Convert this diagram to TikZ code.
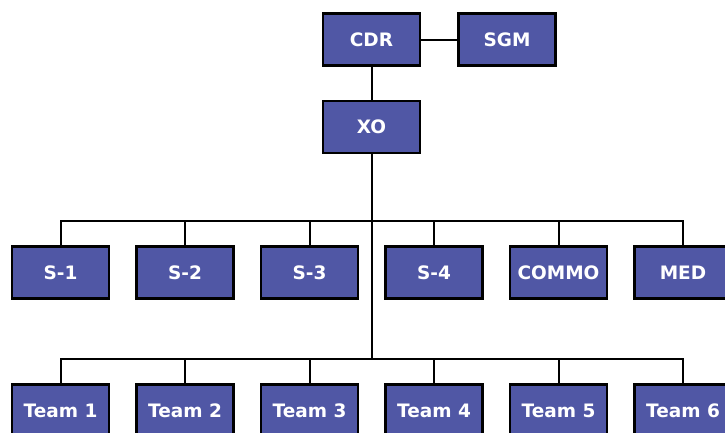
\documentclass[tikz,border=0pt]{standalone}
\usepackage{fontspec}
\setmainfont{DejaVu Sans}
\definecolor{boxblue}{RGB}{80,87,165}
\tikzset{
  orgbox/.style={draw=black, line width=2.2bp, fill=boxblue, minimum width=97bp, minimum height=52bp, inner sep=0pt, text=white, font=\fontsize{18.5bp}{20bp}\selectfont\bfseries},
  link/.style={draw=black, line width=2bp}
}
\begin{document}
\begin{tikzpicture}[x=1bp,y=-1bp]
\useasboundingbox (0,0) rectangle (725,432);
\node[orgbox] (cdr) at (371.5,39.5) {CDR};
\node[orgbox] (sgm) at (507,39.5) {SGM};
\node[orgbox] (xo) at (371.5,127) {XO};
\node[orgbox] (s1) at (60.5,272.5) {S-1};
\node[orgbox] (s2) at (185,272.5) {S-2};
\node[orgbox] (s3) at (309.5,272.5) {S-3};
\node[orgbox] (s4) at (434,272.5) {S-4};
\node[orgbox] (s5) at (558.5,272.5) {COMMO};
\node[orgbox] (s6) at (683,272.5) {MED};
\node[orgbox] (t1) at (60.5,410.5) {Team 1};
\node[orgbox] (t2) at (185,410.5) {Team 2};
\node[orgbox] (t3) at (309.5,410.5) {Team 3};
\node[orgbox] (t4) at (434,410.5) {Team 4};
\node[orgbox] (t5) at (558.5,410.5) {Team 5};
\node[orgbox] (t6) at (683,410.5) {Team 6};
\coordinate (b2) at (371.5,221);
\coordinate (b3) at (371.5,359);
\path[link] (cdr) -- (sgm);
\path[link] (cdr) -- (xo);
\path[link] (xo.south) -- (b3);
\path[link] (s1.north) |- (b2) -| (s6.north);
\path[link] (t1.north) |- (b3) -| (t6.north);
\foreach \n in {s2,s3,s4,s5,t2,t3,t4,t5} {
  \path[link] (\n.north) -- ++(0,-25);
}
\end{tikzpicture}
\end{document}
